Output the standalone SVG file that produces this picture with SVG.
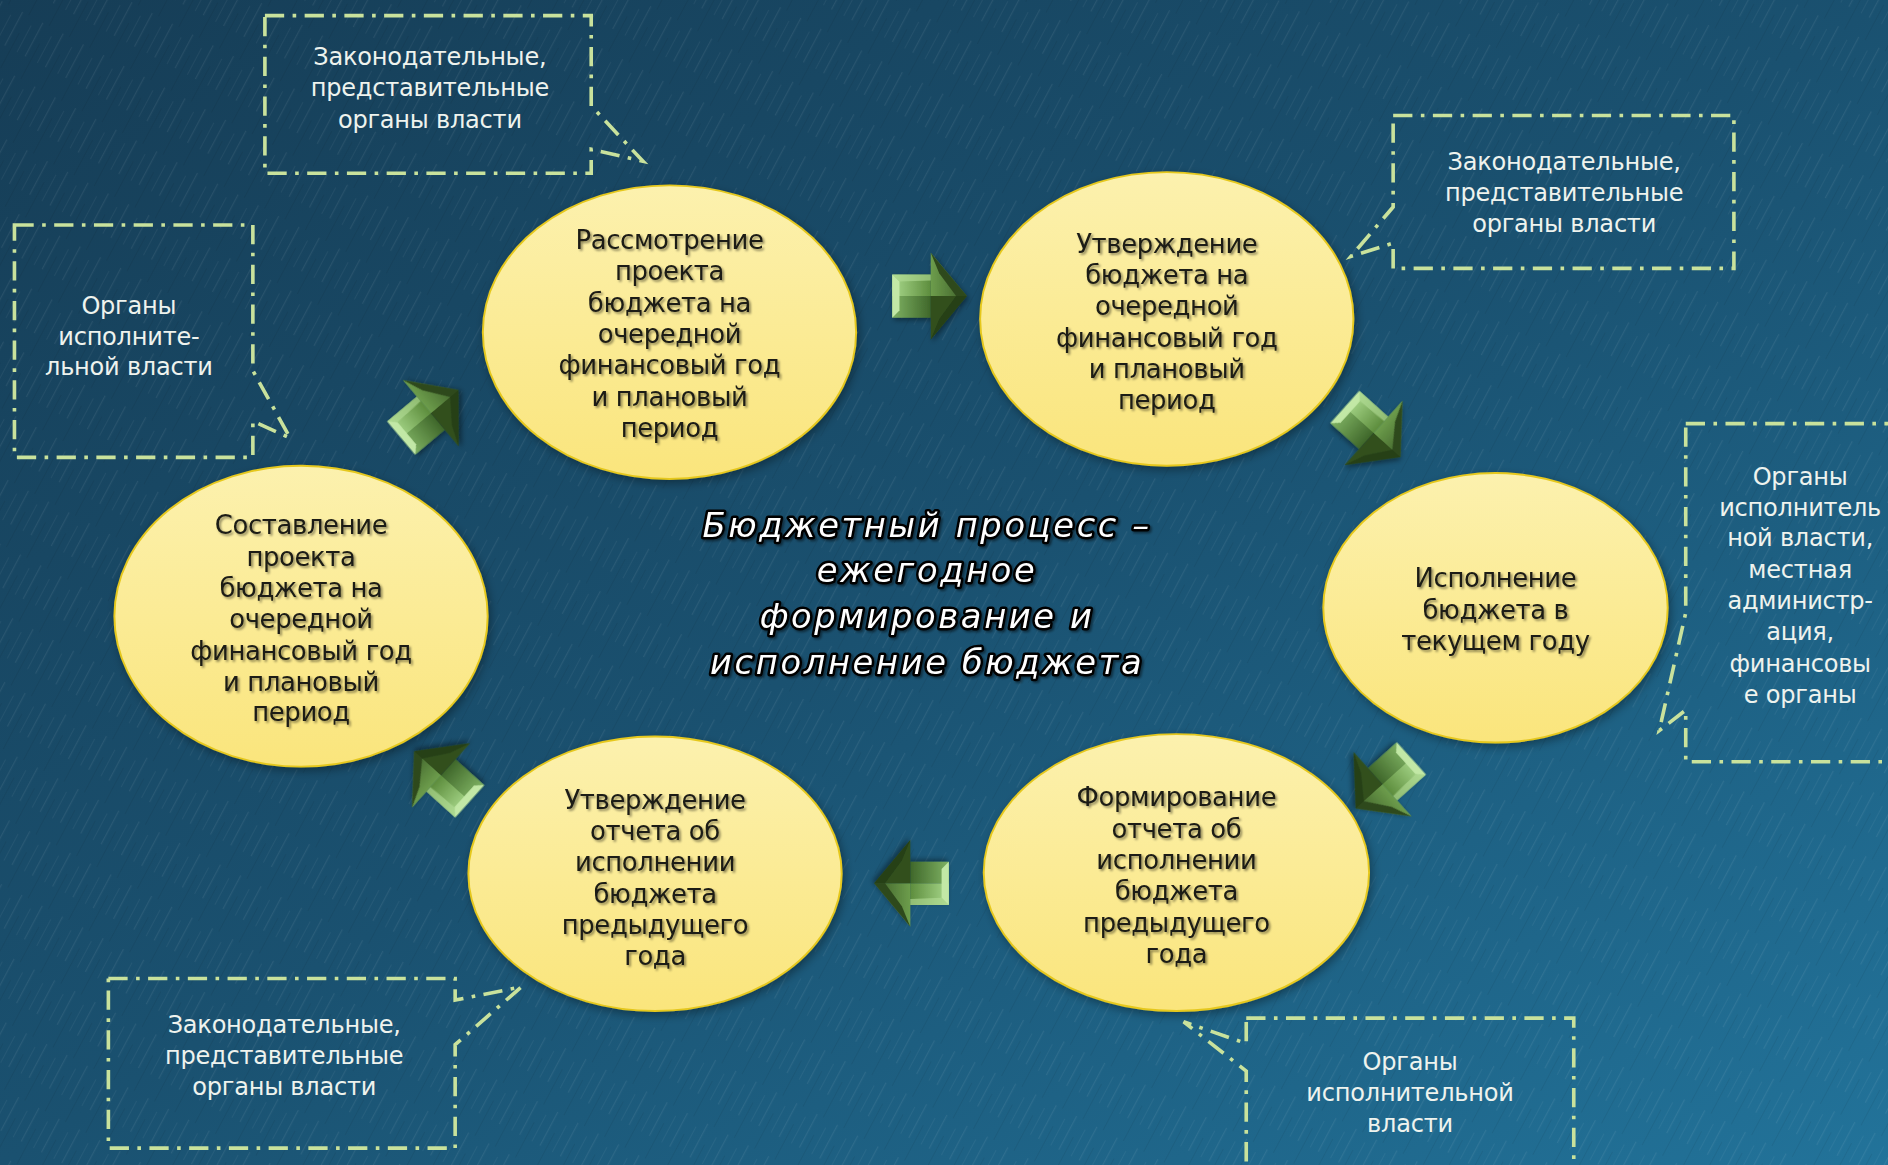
<svg xmlns="http://www.w3.org/2000/svg" width="1888" height="1165" viewBox="0 0 1888 1165">
<defs>
  <linearGradient id="bg" x1="0" y1="0" x2="1" y2="1">
    <stop offset="0" stop-color="#163d56"/>
    <stop offset="0.5" stop-color="#1a5170"/>
    <stop offset="1" stop-color="#22739a"/>
  </linearGradient>
  <pattern id="streaks" width="23" height="60" patternUnits="userSpaceOnUse" patternTransform="rotate(28)">
    <rect x="2" y="0" width="1.2" height="38" fill="#ffffff" opacity="0.07"/>
    <rect x="9" y="20" width="0.8" height="40" fill="#000000" opacity="0.08"/>
    <rect x="16" y="8" width="1" height="30" fill="#ffffff" opacity="0.05"/>
  </pattern>
  <linearGradient id="ell" x1="0" y1="0" x2="0" y2="1">
    <stop offset="0" stop-color="#fcf1ae"/>
    <stop offset="1" stop-color="#fae57c"/>
  </linearGradient>
  <filter id="esh" x="-20%" y="-20%" width="140%" height="140%">
    <feDropShadow dx="2" dy="3" stdDeviation="4" flood-color="#000" flood-opacity="0.35"/>
  </filter>
  <filter id="tsh" x="-10%" y="-30%" width="120%" height="160%">
    <feDropShadow dx="1.5" dy="1.5" stdDeviation="0.8" flood-color="#000" flood-opacity="0.45"/>
  </filter>
  <filter id="ash" x="-30%" y="-30%" width="160%" height="160%">
    <feDropShadow dx="1.5" dy="2" stdDeviation="2" flood-color="#000" flood-opacity="0.4"/>
  </filter>
  <linearGradient id="aTop" gradientUnits="userSpaceOnUse" x1="-31" y1="0" x2="1" y2="0">
    <stop offset="0" stop-color="#a8d88b"/>
    <stop offset="1" stop-color="#5d8d3d"/>
  </linearGradient>
  <linearGradient id="aBot" gradientUnits="userSpaceOnUse" x1="-31" y1="0" x2="1" y2="0">
    <stop offset="0" stop-color="#7fb263"/>
    <stop offset="1" stop-color="#3f672a"/>
  </linearGradient>
  <linearGradient id="aHead" gradientUnits="userSpaceOnUse" x1="1" y1="0" x2="31" y2="0">
    <stop offset="0" stop-color="#6d9d4c"/>
    <stop offset="1" stop-color="#3c5e28"/>
  </linearGradient>
  <g id="arw" filter="url(#ash)">
    <polygon points="-31,-18 1,-18 1,0 -31,0" fill="url(#aTop)"/>
    <polygon points="-31,0 1,0 1,18 -31,18" fill="url(#aBot)"/>
    <polygon points="1,-36 31,0 1,0" fill="url(#aHead)"/>
    <polygon points="1,0 31,0 1,36" fill="#31501f"/>
    <polygon points="1,-36 31,0 22,0 8,-19" fill="#2f4a1d"/>
    <polygon points="1,36 31,0 22,0 8,19" fill="#263f17"/>
    <polygon points="-31,-18 -25,-12 -25,12 -31,18" fill="#c2e8a6"/>
    <polygon points="-31,-18 1,-18 1,-13 -25,-12" fill="#b4de98" opacity="0.6"/>
  </g>
</defs>
<style>
  .bub { fill: url(#ell); stroke: #e6c81e; stroke-width: 1.6; }
  .et { font-family: "DejaVu Sans", "Liberation Sans", sans-serif; font-size: 21.5px; fill: #1b1b14; text-anchor: middle; letter-spacing: -0.3px; }
  .bx { fill: none; stroke: #c9e29c; stroke-width: 3; stroke-dasharray: 16 7 3 7; stroke-linejoin: miter; }
  .bt { font-family: "DejaVu Sans", "Liberation Sans", sans-serif; font-size: 20px; fill: #eef3ee; text-anchor: middle; letter-spacing: -0.2px; }
  .tt { font-family: "DejaVu Sans", "Liberation Sans", sans-serif; font-size: 28px; font-style: oblique; fill: #ffffff; stroke: #000000; stroke-width: 4.2px; paint-order: stroke fill; stroke-linejoin: round; text-anchor: middle; letter-spacing: 2.2px; }
</style>
<rect x="0" y="0" width="1888" height="1165" fill="url(#bg)"/>
<rect x="0" y="0" width="1888" height="1165" fill="url(#streaks)"/>
<g transform="scale(1.2041 1.2035)">

  <g id="title" filter="url(#tsh)">
    <text class="tt" x="770" y="446">Бюджетный процесс –</text>
    <text class="tt" x="770" y="484">ежегодное</text>
    <text class="tt" x="770" y="522">формирование и</text>
    <text class="tt" x="770" y="560">исполнение бюджета</text>
  </g>

  <g id="connectors">
    <use href="#arw" transform="translate(357 344) rotate(-40)"/>
    <use href="#arw" transform="translate(772 246)"/>
    <use href="#arw" transform="translate(1140 359) rotate(42)"/>
    <use href="#arw" transform="translate(1149 651) rotate(138)"/>
    <use href="#arw" transform="translate(757 734) rotate(180)"/>
    <use href="#arw" transform="translate(367 645) rotate(-138)"/>
  </g>

  <g id="node-review">
    <ellipse class="bub" cx="556" cy="276" rx="155" ry="122" filter="url(#esh)"/>
    <g filter="url(#tsh)">
      <text class="et" x="556" y="207">Рассмотрение</text>
      <text class="et" x="556" y="233">проекта</text>
      <text class="et" x="556" y="259">бюджета на</text>
      <text class="et" x="556" y="285">очередной</text>
      <text class="et" x="556" y="311">финансовый год</text>
      <text class="et" x="556" y="337">и плановый</text>
      <text class="et" x="556" y="363">период</text>
    </g>
  </g>

  <g id="node-approve-budget">
    <ellipse class="bub" cx="969" cy="265" rx="155" ry="122" filter="url(#esh)"/>
    <g filter="url(#tsh)">
      <text class="et" x="969" y="210">Утверждение</text>
      <text class="et" x="969" y="236">бюджета на</text>
      <text class="et" x="969" y="262">очередной</text>
      <text class="et" x="969" y="288">финансовый год</text>
      <text class="et" x="969" y="314">и плановый</text>
      <text class="et" x="969" y="340">период</text>
    </g>
  </g>

  <g id="node-execute">
    <ellipse class="bub" cx="1242" cy="505" rx="143" ry="112" filter="url(#esh)"/>
    <g filter="url(#tsh)">
      <text class="et" x="1242" y="488">Исполнение</text>
      <text class="et" x="1242" y="514">бюджета в</text>
      <text class="et" x="1242" y="540">текущем году</text>
    </g>
  </g>

  <g id="node-form-report">
    <ellipse class="bub" cx="977" cy="725" rx="160" ry="115" filter="url(#esh)"/>
    <g filter="url(#tsh)">
      <text class="et" x="977" y="670">Формирование</text>
      <text class="et" x="977" y="696">отчета об</text>
      <text class="et" x="977" y="722">исполнении</text>
      <text class="et" x="977" y="748">бюджета</text>
      <text class="et" x="977" y="774">предыдущего</text>
      <text class="et" x="977" y="800">года</text>
    </g>
  </g>

  <g id="node-approve-report">
    <ellipse class="bub" cx="544" cy="726" rx="155" ry="114" filter="url(#esh)"/>
    <g filter="url(#tsh)">
      <text class="et" x="544" y="672">Утверждение</text>
      <text class="et" x="544" y="698">отчета об</text>
      <text class="et" x="544" y="724">исполнении</text>
      <text class="et" x="544" y="750">бюджета</text>
      <text class="et" x="544" y="776">предыдущего</text>
      <text class="et" x="544" y="802">года</text>
    </g>
  </g>

  <g id="node-draft">
    <ellipse class="bub" cx="250" cy="512" rx="155" ry="125" filter="url(#esh)"/>
    <g filter="url(#tsh)">
      <text class="et" x="250" y="444">Составление</text>
      <text class="et" x="250" y="470">проекта</text>
      <text class="et" x="250" y="496">бюджета на</text>
      <text class="et" x="250" y="522">очередной</text>
      <text class="et" x="250" y="548">финансовый год</text>
      <text class="et" x="250" y="574">и плановый</text>
      <text class="et" x="250" y="599">период</text>
    </g>
  </g>

  <g id="callout-legislative-1">
    <path class="bx" d="M220,13 H491 V88 L534,134 L491,124 V144 H220 Z"/>
    <text class="bt" x="357" y="54">Законодательные,</text>
    <text class="bt" x="357" y="80">представительные</text>
    <text class="bt" x="357" y="106">органы власти</text>
  </g>

  <g id="callout-legislative-2">
    <path class="bx" d="M1157,96 H1440 V223 H1157 V202 L1122,213 L1157,172 Z"/>
    <text class="bt" x="1299" y="141">Законодательные,</text>
    <text class="bt" x="1299" y="167">представительные</text>
    <text class="bt" x="1299" y="193">органы власти</text>
  </g>

  <g id="callout-executive-1">
    <path class="bx" d="M12,187 H210 V308 L241,364 L210,350 V380 H12 Z"/>
    <text class="bt" x="107" y="261">Органы</text>
    <text class="bt" x="107" y="287">исполните-</text>
    <text class="bt" x="107" y="312">льной власти</text>
  </g>

  <g id="callout-executive-local">
    <path class="bx" d="M1400,352 H1600 V633 H1400 V590 L1378,607 L1400,509 Z"/>
    <text class="bt" x="1495" y="403">Органы</text>
    <text class="bt" x="1495" y="429">исполнитель</text>
    <text class="bt" x="1495" y="454">ной власти,</text>
    <text class="bt" x="1495" y="480">местная</text>
    <text class="bt" x="1495" y="506">администр-</text>
    <text class="bt" x="1495" y="532">ация,</text>
    <text class="bt" x="1495" y="558">финансовы</text>
    <text class="bt" x="1495" y="584">е органы</text>
  </g>

  <g id="callout-legislative-3">
    <path class="bx" d="M90,813 H378 V831 L433,820 L378,868 V954 H90 Z"/>
    <text class="bt" x="236" y="858">Законодательные,</text>
    <text class="bt" x="236" y="884">представительные</text>
    <text class="bt" x="236" y="910">органы власти</text>
  </g>

  <g id="callout-executive-2">
    <path class="bx" d="M1035,846 H1307 V980 H1035 V890 L983,849 L1035,867 Z"/>
    <text class="bt" x="1171" y="889">Органы</text>
    <text class="bt" x="1171" y="915">исполнительной</text>
    <text class="bt" x="1171" y="941">власти</text>
  </g>
</g>
</svg>
